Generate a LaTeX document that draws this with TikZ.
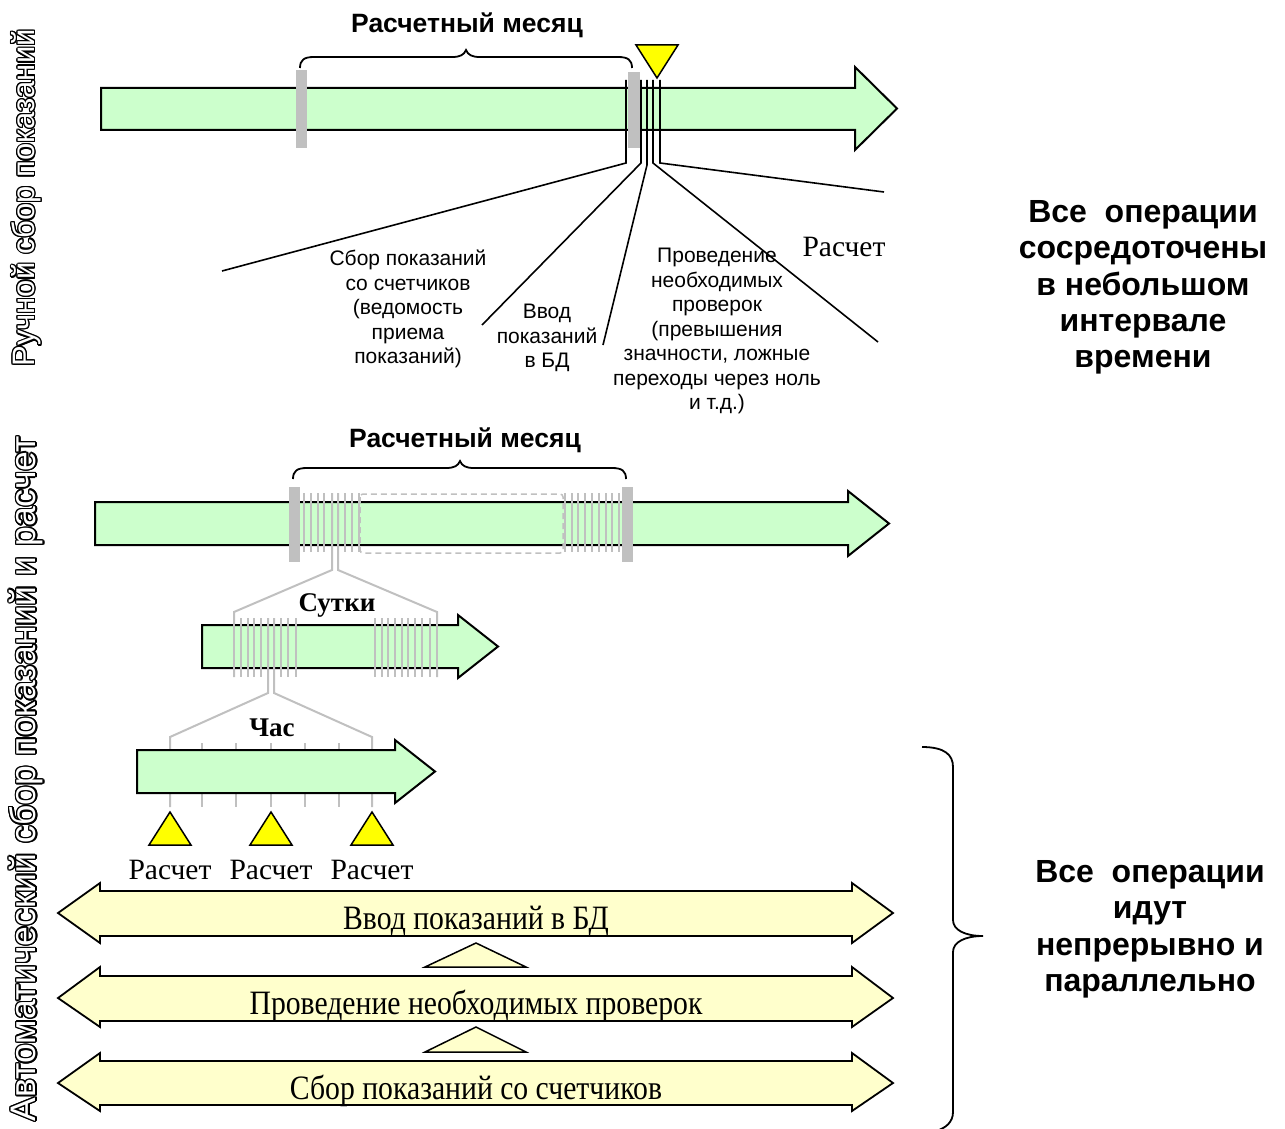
\documentclass[tikz,border=0pt]{standalone}
\usepackage{fontspec}
\setmainfont{Liberation Serif}
\setsansfont{Liberation Sans}
\usepackage{contour}
\contourlength{1.3pt}
\definecolor{agreen}{HTML}{CCFFCC}
\definecolor{ayel}{HTML}{FFFFCC}
\definecolor{tri}{HTML}{FFFF00}
\definecolor{tick}{HTML}{C0C0C0}
\newcommand{\outl}[1]{\contour{black}{\textcolor{white}{#1}}}
\newcommand{\tallt}[1]{\scalebox{1}[1.15]{#1}}
\begin{document}
\begin{tikzpicture}[x=1pt,y=-1pt,
  garrow/.style={fill=agreen,draw=black,line width=2pt,line join=miter},
  yarrow/.style={fill=ayel,draw=black,line width=1.8pt,line join=miter},
  ytri/.style={fill=tri,draw=black,line width=1.5pt,line join=miter},
  stri/.style={fill=ayel,draw=black,line width=1.5pt,line join=miter},
  gbar/.style={fill=tick,draw=none},
  gline/.style={draw=tick,line width=2pt},
  gdash/.style={draw=tick,line width=1.5pt,dash pattern=on 6pt off 4pt,rounded corners=3pt},
  fan/.style={draw=black,line width=1.6pt},
  bracepath/.style={draw=black,line width=1.8pt},
  lbl/.style={font=\sffamily\fontsize{21}{24.5}\selectfont,align=center,inner sep=0pt},
  rlbl/.style={font=\sffamily\bfseries\fontsize{32}{36.4}\selectfont,align=center,inner sep=0pt},
  ttl/.style={font=\sffamily\bfseries\fontsize{26.5}{30}\selectfont,inner sep=0pt},
  sideA/.style={font=\sffamily\fontsize{31}{34}\selectfont,rotate=90,inner sep=0pt},
  sideB/.style={font=\sffamily\fontsize{35.5}{38}\selectfont,rotate=90,inner sep=0pt},
  serif/.style={font=\fontsize{29.5}{33}\selectfont,inner sep=0pt},
  serifb/.style={font=\bfseries\fontsize{27}{30}\selectfont,inner sep=0pt},
  barlbl/.style={font=\fontsize{29.7}{33}\selectfont,inner sep=0pt,anchor=base},
]
\useasboundingbox (0,0) rectangle (1285,1129);

% ================= TOP: manual =================
\node[sideA] (sideAtext) at (27,198) {\outl{Ручной сбор показаний}};
\node[ttl] (month1) at (467,25) {Расчетный месяц};
\path[bracepath] (300,68) .. controls (300,60) and (304,57) .. (314,57) -- (452,57)
  .. controls (460,57) and (464,55) .. (466,50) .. controls (468,55) and (472,57) .. (480,57)
  -- (618,57) .. controls (628,57) and (632,60) .. (632,68);

\path[garrow] (101,88) -- (855,88) -- (855,67) -- (897,108.5) -- (855,150) -- (855,130) -- (101,130) -- cycle;
\path[gbar] (296,70) rectangle (307,148);
\path[gbar] (628,72) rectangle (640,148);

% fan lines
\coordinate (f1t) at (626,80); \coordinate (f1m) at (626,163); \coordinate (f1e) at (222,271);
\coordinate (f2t) at (641,80); \coordinate (f2m) at (641,163); \coordinate (f2e) at (482,325);
\coordinate (f3t) at (647,80); \coordinate (f3m) at (647,165); \coordinate (f3e) at (603,345);
\coordinate (f4t) at (653,80); \coordinate (f4m) at (653,163); \coordinate (f4e) at (878,342);
\coordinate (f5t) at (660,80); \coordinate (f5m) at (660,163); \coordinate (f5e) at (884,192);
\draw[fan] (f1t) -- (f1m) -- (f1e);
\draw[fan] (f2t) -- (f2m) -- (f2e);
\draw[fan] (f3t) -- (f3m) -- (f3e);
\draw[fan] (f4t) -- (f4m) -- (f4e);
\draw[fan] (f5t) -- (f5m) -- (f5e);
\path[ytri] (636,45) -- (678,45) -- (657,78) -- cycle;

\node[lbl] (sbor) at (408,309) {Сбор показаний\\со счетчиков\\(ведомость\\приема\\показаний)};
\node[lbl] (vvod) at (547,338) {Ввод\\показаний\\в БД};
\node[lbl] (prov) at (717,331) {Проведение\\необходимых\\проверок\\(превышения\\значности, ложные\\переходы через ноль\\и т.д.)};
\node[serif] (rasch0) at (844,247) {Расчет};

\node[rlbl] (rtext1) at (1143,287.5) {Все\ \ операции\\сосредоточены\\в небольшом\\интервале\\времени};

% ================= BOTTOM: automatic =================
\node[sideB] (sideBtext) at (27,779) {\outl{Автоматический сбор показаний и расчет}};
\node[ttl] (month2) at (465,440) {Расчетный месяц};
\path[bracepath] (293,479) .. controls (293,471) and (297,468) .. (307,468) -- (446,468)
  .. controls (454,468) and (458,466) .. (460,461) .. controls (462,466) and (466,468) .. (474,468)
  -- (612,468) .. controls (622,468) and (626,471) .. (626,479);

\path[garrow] (95,502) -- (848,502) -- (848,491) -- (889,523.5) -- (848,556) -- (848,545) -- (95,545) -- cycle;
\foreach \x in {304,311,318,324,345,352,359,565,572,578,585,592,599,606,612,619}
  \draw[gline] (\x,493) -- (\x,552);
\draw[gdash] (360,494) rectangle (563,553);
\path[gbar] (289,487) rectangle (300,562);
\path[gbar] (622,487) rectangle (633,562);

% bracket month -> day
\coordinate (m1) at (332,493); \coordinate (m2) at (338,493);
\coordinate (d1) at (234,677); \coordinate (d2) at (437,677);
\draw[gline] (m1) -- (332,570) -- (234,612) -- (d1);
\draw[gline] (m2) -- (338,570) -- (437,612) -- (d2);

% day arrow
\node[serifb] (sutki) at (337,605) {Сутки};
\path[garrow] (202,625) -- (458,625) -- (458,615) -- (498,646.5) -- (458,678) -- (458,668) -- (202,668) -- cycle;
\foreach \x in {234,241,248,254,261,281,288,296,375,382,388,395,402,408,415,422,430,437}
  \draw[gline] (\x,618) -- (\x,677);
\coordinate (s1) at (268,618); \coordinate (s2) at (274,618);
\coordinate (h1) at (170,807); \coordinate (h2) at (372,807);
\draw[gline] (s1) -- (268,693) -- (170,737) -- (h1);
\draw[gline] (s2) -- (274,693) -- (372,737) -- (h2);
\foreach \x in {202,236,271,305,339}
  \draw[gline] (\x,743) -- (\x,807);

% hour arrow
\node[serifb] (chas) at (272,728) {Час};
\path[garrow] (137,750) -- (395,750) -- (395,740) -- (435,771.5) -- (395,803) -- (395,793) -- (137,793) -- cycle;

\foreach \x/\n in {170/a,271/b,372/c}{
  \path[ytri] (\x,812) -- (\x+21,845) -- (\x-21,845) -- cycle;
  \node[serif,anchor=base] (calc\n) at (\x,879) {Расчет};
}

% parallel processes
\path[yarrow] (58,913) -- (100,883) -- (100,891) -- (852,891) -- (852,883) -- (893,913) -- (852,943) -- (852,936) -- (100,936) -- (100,943) -- cycle;
\node[barlbl] (pA) at (476,929) {\tallt{Ввод показаний в БД}};
\path[stri] (476,943) -- (526,967) -- (425,967) -- cycle;
\path[yarrow] (58,998) -- (100,967) -- (100,976) -- (852,976) -- (852,967) -- (893,998) -- (852,1027) -- (852,1021) -- (100,1021) -- (100,1027) -- cycle;
\node[barlbl] (pB) at (476,1014) {\tallt{Проведение необходимых проверок}};
\path[stri] (476,1027) -- (526,1052) -- (425,1052) -- cycle;
\path[yarrow] (58,1083) -- (100,1053) -- (100,1061) -- (852,1061) -- (852,1053) -- (893,1083) -- (852,1111) -- (852,1105) -- (100,1105) -- (100,1111) -- cycle;
\node[barlbl] (pC) at (476,1099) {\tallt{Сбор показаний со счетчиков}};

% right brace and text
\path[bracepath] (922,747) .. controls (945,747) and (953,755) .. (953,767) -- (953,920)
  .. controls (953,930) and (965,936) .. (983,936) .. controls (965,936) and (953,942) .. (953,952)
  -- (953,1112) .. controls (953,1122) and (946,1128) .. (936,1131);
\node[rlbl] (rtext2) at (1150,929.5) {Все\ \ операции\\идут\\непрерывно и\\параллельно};
\end{tikzpicture}
\end{document}
